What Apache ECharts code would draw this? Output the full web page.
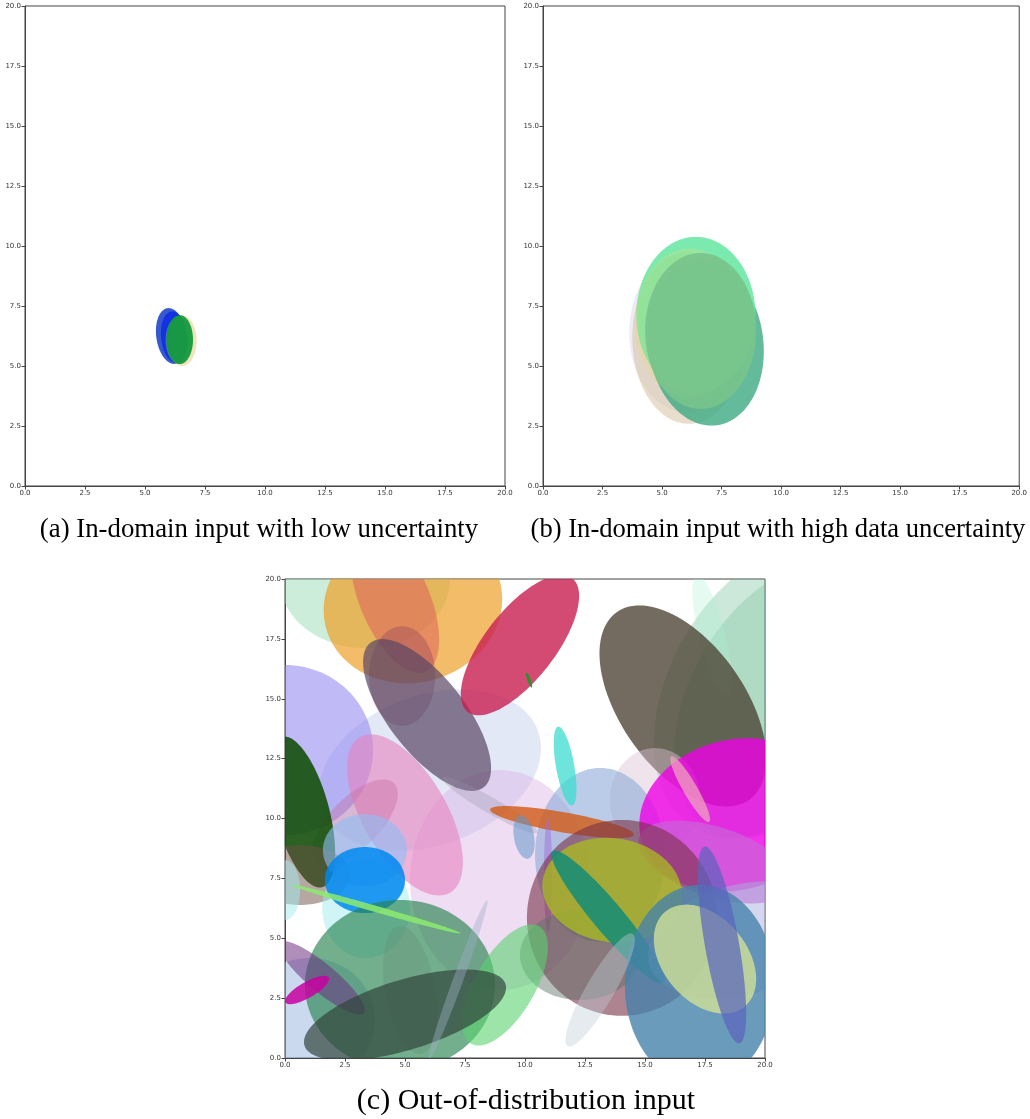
<!DOCTYPE html>
<html><head><meta charset="utf-8">
<script src="https://cdn.jsdelivr.net/npm/echarts@6/dist/echarts.min.js"></script>
<style>html,body{margin:0;padding:0;background:#fff}#c{width:1030px;height:1119px}</style>
</head><body><div id="c"></div>
<script>
// ---- tick labels ----
const tickValues = [0, 2.5, 5, 7.5, 10, 12.5, 15, 17.5, 20];
const captions = ['(a) In-domain input with low uncertainty', '(b) In-domain input with high data uncertainty', '(c) Out-of-distribution input'];

// ---- panel (a): ellipses (center x, center y, semi-axis a, semi-axis b, angle deg) ----
const aCx  = [6.10, 6.22, 6.55, 6.42, 6.45];
const aCy  = [6.25, 6.20, 6.05, 6.08, 6.10];
const aA   = [0.63, 0.55, 0.60, 0.56, 0.55];
const aB   = [1.17, 1.08, 1.05, 1.00, 1.02];
const aAng = [8, 6, 0, 0, 0];
const aCol = ['rgba(20,60,200,0.85)', 'rgba(10,40,230,0.8)', 'rgba(230,200,120,0.5)', 'rgba(120,200,80,0.5)', 'rgba(10,150,60,0.88)'];

// ---- panel (b) ----
const bCx  = [6.04, 6.12, 6.83, 6.42, 6.15, 6.62];
const bCy  = [6.40, 6.17, 5.96, 7.13, 6.80, 6.46];
const bA   = [2.42, 2.37, 2.42, 2.50, 2.30, 2.33];
const bB   = [3.33, 3.58, 3.46, 3.25, 3.10, 3.25];
const bAng = [0, 0, 8, 0, 0, 0];
const bCol = ['rgba(200,190,230,0.3)', 'rgba(215,195,160,0.55)', 'rgba(60,170,130,0.8)', 'rgba(100,230,160,0.85)', 'rgba(230,220,120,0.25)', 'rgba(120,195,140,0.92)'];

// ---- panel (c) ----
const cCx  = [3.33, 20.42, 20.85, 17.79, 6.04, 0.00, 8.96, 5.33, 4.58, 4.88, 5.00, 5.92, 2.92, 9.79, 10.17, 16.58, 15.42, 13.13, 18.75, 16.88, 17.92, 8.54, 11.54, 9.96, 11.67, 10.96, 14.04, 12.29, 13.63, 13.46, 19.00, 17.29, 17.50, 18.21, 13.13, 0.71, 0.63, 3.38, 0.00, 3.33, 3.33, 1.04, 4.79, 5.21, 9.17, 1.54, 0.92, 5.00, 7.21, 3.79];
const cCy  = [19.96, 15.37, 14.95, 17.66, 12.02, 12.86, 7.43, 18.93, 19.12, 15.95, 10.15, 14.32, 9.85, 17.24, 15.78, 14.70, 10.77, 8.48, 10.15, 11.23, 8.18, 10.56, 9.85, 9.23, 12.19, 7.64, 5.85, 4.30, 7.01, 5.89, 4.93, 3.05, 4.13, 4.72, 2.84, 10.27, 7.64, 6.26, 7.01, 8.68, 7.43, 1.59, 3.05, 2.84, 3.05, 3.34, 2.84, 1.80, 3.26, 6.22];
const cA   = [3.54, 6.67, 6.25, 2.58, 4.79, 3.67, 3.75, 3.75, 3.25, 1.38, 3.75, 3.83, 2.29, 3.54, 0.33, 4.79, 1.88, 2.71, 4.04, 1.58, 3.33, 2.29, 3.04, 0.92, 1.67, 2.38, 3.96, 2.50, 2.92, 3.58, 3.96, 3.13, 2.58, 4.17, 2.71, 3.25, 2.08, 1.83, 0.63, 1.75, 1.67, 2.71, 3.96, 2.71, 2.83, 2.29, 1.04, 4.38, 3.54, 3.67];
const cB   = [2.84, 4.38, 3.96, 0.54, 3.13, 3.55, 4.59, 3.25, 1.45, 2.08, 1.75, 1.58, 1.04, 1.46, 0.07, 2.60, 2.17, 3.63, 3.13, 0.29, 1.46, 0.33, 0.42, 0.42, 0.38, 0.17, 4.09, 1.88, 2.17, 0.63, 2.30, 4.18, 1.75, 0.71, 0.58, 1.13, 1.25, 2.09, 1.25, 1.50, 1.38, 2.59, 3.55, 1.04, 1.25, 0.58, 0.33, 1.46, 0.21, 0.13];
const cAng = [0, 60, 60, 104, 20, 0, 0, 15, 113, 0, 120, 128, 45, 52, 110, 125, 0, 0, 15, 120, -18, -30, -10, 100, 100, 90, 0, 0, -8, 130, 15, 0, 130, 100, 60, 105, 0, 0, 0, 0, 0, 0, 0, 100, 60, -40, 30, 17, 70, -16];
const cCol = ['rgba(140,215,170,0.45)', 'rgba(110,190,150,0.35)', 'rgba(110,190,150,0.3)', 'rgba(170,240,210,0.3)', 'rgba(200,210,240,0.5)', 'rgba(140,130,240,0.55)', 'rgba(220,180,230,0.45)', 'rgba(238,160,40,0.7)', 'rgba(220,90,90,0.5)', 'rgba(130,50,90,0.3)', 'rgba(230,130,190,0.6)', 'rgba(90,70,100,0.7)', 'rgba(200,110,160,0.4)', 'rgba(200,30,80,0.8)', 'rgba(30,150,40,0.9)', 'rgba(75,65,50,0.78)', 'rgba(220,195,210,0.45)', 'rgba(140,170,215,0.6)', 'rgba(240,0,230,0.8)', 'rgba(240,170,190,0.7)', 'rgba(200,100,215,0.7)', 'rgba(150,150,170,0.3)', 'rgba(210,90,20,0.8)', 'rgba(100,150,200,0.55)', 'rgba(60,220,210,0.75)', 'rgba(160,110,220,0.5)', 'rgba(120,50,70,0.6)', 'rgba(90,110,100,0.45)', 'rgba(170,190,30,0.75)', 'rgba(20,140,120,0.85)', 'rgba(170,175,220,0.5)', 'rgba(70,130,170,0.8)', 'rgba(215,230,150,0.75)', 'rgba(90,100,190,0.7)', 'rgba(190,205,215,0.4)', 'rgba(20,80,10,0.9)', 'rgba(110,80,70,0.5)', 'rgba(160,235,240,0.5)', 'rgba(160,235,240,0.5)', 'rgba(140,190,245,0.6)', 'rgba(0,135,240,0.85)', 'rgba(150,180,220,0.5)', 'rgba(40,130,80,0.65)', 'rgba(100,130,110,0.25)', 'rgba(90,210,110,0.6)', 'rgba(110,50,130,0.55)', 'rgba(200,0,160,0.85)', 'rgba(50,70,60,0.7)', 'rgba(160,175,200,0.4)', 'rgba(140,235,110,0.85)'];

const grids = [
  {left: 25, top: 6, width: 480, height: 480},
  {left: 543, top: 6, width: 480, height: 480},
  {left: 285, top: 579, width: 480, height: 479}
];

function axisBase() {
  return {
    type: 'value', min: 0, max: 20, interval: 2.5,
    axisLine: {show: true, lineStyle: {color: '#444', width: 1}},
    axisTick: {show: true, length: 3.5, lineStyle: {color: '#444', width: 1}},
    axisLabel: {fontSize: 7, fontFamily: 'DejaVu Sans', color: '#333', margin: 4, formatter: v => v.toFixed(1)},
    splitLine: {show: false}
  };
}

function ellipseSeries(idx, cx, cy, a, b, ang, col) {
  const data = cx.map((v, i) => [v, cy[i], a[i], b[i], ang[i], i]);
  return {
    type: 'custom', xAxisIndex: idx, yAxisIndex: idx, silent: true,
    data: data, encode: {x: 0, y: 1},
    renderItem: function (params, api) {
      const i = api.value(5);
      const X = api.value(0), Y = api.value(1), A = api.value(2), B = api.value(3);
      const t = api.value(4) * Math.PI / 180;
      const pts = [];
      const N = 120;
      for (let k = 0; k < N; k++) {
        const u = k / N * 2 * Math.PI;
        const dx = A * Math.cos(u), dy = B * Math.sin(u);
        pts.push(api.coord([X + dx * Math.cos(t) - dy * Math.sin(t), Y + dx * Math.sin(t) + dy * Math.cos(t)]));
      }
      const cs = params.coordSys;
      return {
        type: 'polygon', shape: {points: pts},
        style: {fill: col[i], stroke: null},
        clipPath: {type: 'rect', shape: {x: cs.x, y: cs.y, width: cs.width, height: cs.height}}
      };
    }
  };
}

const chart = echarts.init(document.getElementById('c'), null, {renderer: 'canvas'});
chart.setOption({
  animation: false,
  backgroundColor: '#fff',
  grid: grids.map(g => Object.assign({show: true, borderColor: '#444', borderWidth: 1, backgroundColor: 'transparent'}, g)),
  xAxis: grids.map((g, i) => Object.assign(axisBase(), {gridIndex: i, position: 'bottom'})),
  yAxis: grids.map((g, i) => Object.assign(axisBase(), {gridIndex: i, position: 'left'})),
  series: [
    ellipseSeries(0, aCx, aCy, aA, aB, aAng, aCol),
    ellipseSeries(1, bCx, bCy, bA, bB, bAng, bCol),
    ellipseSeries(2, cCx, cCy, cA, cB, cAng, cCol)
  ],
  graphic: [
    {type: 'text', x: 259, y: 530, style: {text: captions[0], font: '26.8px "Liberation Serif"', fill: '#000', align: 'center', verticalAlign: 'middle'}},
    {type: 'text', x: 778, y: 530, style: {text: captions[1], font: '26.6px "Liberation Serif"', fill: '#000', align: 'center', verticalAlign: 'middle'}},
    {type: 'text', x: 526, y: 1101, style: {text: captions[2], font: '30px "Liberation Serif"', fill: '#000', align: 'center', verticalAlign: 'middle'}}
  ]
});
</script></body></html>
